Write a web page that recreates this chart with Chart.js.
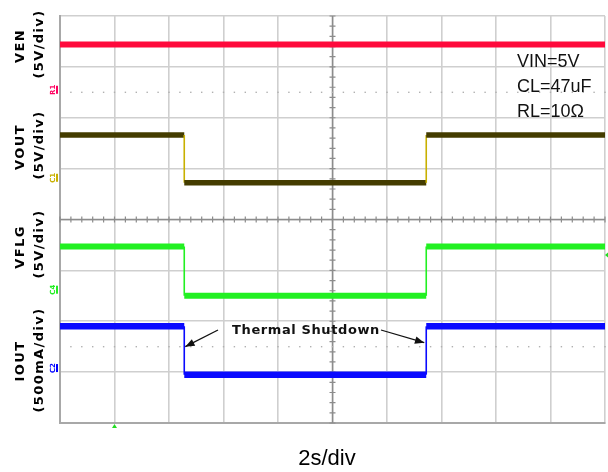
<!DOCTYPE html>
<html>
<head>
<meta charset="utf-8">
<script src="https://cdn.jsdelivr.net/npm/chart.js@4/dist/chart.umd.min.js"></script>
<style>
  html, body { margin: 0; padding: 0; background: #ffffff; }
  #wrap { width: 608px; height: 472px; position: relative; }
</style>
</head>
<body>
<div id="wrap"><canvas id="c" width="608" height="472"></canvas></div>
<script>
// ---- data (time in seconds, 2 s/div; levels in screen divisions 0..8) ----
const timeS   = [0, 4.56, 4.56, 13.44, 13.44, 20];
const venDiv  = [7.44, 7.44, 7.44, 7.44, 7.44, 7.44];
const voutDiv = [5.66, 5.66, 4.72, 4.72, 5.66, 5.66];
const vflgDiv = [3.47, 3.47, 2.50, 2.50, 3.47, 3.47];
const ioutDiv = [1.90, 1.90, 0.95, 0.95, 1.90, 1.90];

const channelNames = ['VEN', 'VOUT', 'VFLG', 'IOUT'];
const channelScales = ['(5V/div)', '(5V/div)', '(5V/div)', '(500mA/div)'];
const channelMarkers = ['R1', 'C1', 'C4', 'C2'];
const markerLevels = [6.55, 4.82, 2.62, 1.08];
const refDotLevels = [6.5, 1.5];
const conditions = ['VIN=5V', 'CL=47uF', 'RL=10\u03A9'];
const annotation = 'Thermal Shutdown';
const xTitle = '2s/div';

function pts(ys) { return timeS.map((t, i) => ({ x: t, y: ys[i] })); }
function isVertical(ctx) {
  return ctx.p0.parsed.x === ctx.p1.parsed.x && ctx.p0.parsed.y !== ctx.p1.parsed.y;
}

function trace(label, ys, color, vColor, w) {
  return {
    label, data: pts(ys), borderColor: color, borderWidth: w,
    pointRadius: 0, tension: 0, fill: false,
    segment: {
      borderWidth: ctx => isVertical(ctx) ? 1.6 : w,
      borderColor: ctx => isVertical(ctx) ? vColor : color
    }
  };
}

const scopePlugin = {
  id: 'scope',
  beforeDatasetsDraw(chart) {
    const { ctx, scales: { x, y } } = chart;
    ctx.save();
    // center cross with minor ticks
    const cx = x.getPixelForValue(10), cy = y.getPixelForValue(4);
    ctx.strokeStyle = '#8c8c8c';
    ctx.lineWidth = 1.5;
    ctx.beginPath();
    ctx.moveTo(x.left, cy); ctx.lineTo(x.right, cy);
    ctx.moveTo(cx, y.top); ctx.lineTo(cx, y.bottom);
    ctx.stroke();
    ctx.lineWidth = 1.2;
    ctx.beginPath();
    for (let v = 0; v <= 20.001; v += 0.4) {
      const px = x.getPixelForValue(v);
      ctx.moveTo(px, cy - 3); ctx.lineTo(px, cy + 3);
    }
    for (let v = 0; v <= 8.001; v += 0.2) {
      const py = y.getPixelForValue(v);
      ctx.moveTo(cx - 3, py); ctx.lineTo(cx + 3, py);
    }
    ctx.stroke();
    // dotted reference levels
    ctx.fillStyle = '#b0b0b0';
    refDotLevels.forEach(lv => {
      const py = y.getPixelForValue(lv);
      for (let v = 0.4; v < 20; v += 0.4) {
        const px = x.getPixelForValue(v);
        ctx.fillRect(px - 0.7, py - 0.7, 1.4, 1.4);
      }
    });
    ctx.restore();
  },
  afterDraw(chart) {
    const { ctx, scales: { x, y } } = chart;
    ctx.save();
    // left channel labels
    ctx.fillStyle = '#000';
    ctx.textAlign = 'center';
    ctx.textBaseline = 'middle';
    ctx.font = 'bold 13px "DejaVu Sans"';
    const nameY = [47, 148, 248, 362];
    const scaleY = [45, 146, 245, 361];
    for (let i = 0; i < 4; i++) {
      ctx.save();
      ctx.translate(21, nameY[i]);
      ctx.rotate(-Math.PI / 2);
      ctx.letterSpacing = '1.4px';
      ctx.fillText(channelNames[i], 1, 0);
      ctx.restore();
      ctx.save();
      ctx.translate(40, scaleY[i]);
      ctx.rotate(-Math.PI / 2);
      ctx.letterSpacing = '1.4px';
      ctx.fillText(channelScales[i], 1, 0);
      ctx.restore();
    }
    // channel ground markers
    const mColors = ['#ff0060', '#c8b000', '#22ee22', '#0000ff'];
    ctx.font = 'bold 7px "DejaVu Sans"';
    for (let i = 0; i < 4; i++) {
      const py = y.getPixelForValue(markerLevels[i]);
      ctx.save();
      ctx.fillStyle = mColors[i];
      ctx.translate(53, py);
      ctx.rotate(-Math.PI / 2);
      ctx.fillText(channelMarkers[i], 0, 0);
      ctx.restore();
      ctx.fillStyle = mColors[i];
      ctx.fillRect(56, py - 4, 2, 8);
    }
    // trigger markers
    ctx.fillStyle = '#22dd22';
    const tx = x.getPixelForValue(2);
    ctx.beginPath();
    ctx.moveTo(tx - 2.5, y.bottom + 5); ctx.lineTo(tx + 2.5, y.bottom + 5); ctx.lineTo(tx, y.bottom + 1);
    ctx.closePath(); ctx.fill();
    const ty = y.getPixelForValue(3.3);
    ctx.beginPath();
    ctx.moveTo(x.right + 3, ty - 2.5); ctx.lineTo(x.right + 3, ty + 2.5); ctx.lineTo(x.right, ty);
    ctx.closePath(); ctx.fill();

    // conditions text
    ctx.fillStyle = '#111';
    ctx.textAlign = 'left';
    ctx.font = '18px "Liberation Sans"';
    const cyPos = [62, 87.5, 112];
    conditions.forEach((s, i) => ctx.fillText(s, 517, cyPos[i]));

    // Thermal Shutdown annotation + arrows
    ctx.font = 'bold 13px "DejaVu Sans"';
    ctx.letterSpacing = '0.6px';
    ctx.textAlign = 'center';
    ctx.fillText(annotation, 306, 331);
    ctx.letterSpacing = '0px';
    function arrow(x1, y1, x2, y2) {
      ctx.strokeStyle = '#111';
      ctx.lineWidth = 1.3;
      ctx.beginPath(); ctx.moveTo(x1, y1); ctx.lineTo(x2, y2); ctx.stroke();
      const a = Math.atan2(y2 - y1, x2 - x1), L = 10, W = 0.38;
      ctx.beginPath();
      ctx.moveTo(x2, y2);
      ctx.lineTo(x2 - L * Math.cos(a - W), y2 - L * Math.sin(a - W));
      ctx.lineTo(x2 - L * Math.cos(a + W), y2 - L * Math.sin(a + W));
      ctx.closePath(); ctx.fill();
    }
    const xFall = x.getPixelForValue(timeS[1]);
    const xRise = x.getPixelForValue(timeS[3]);
    const yArrow = y.getPixelForValue(1.5);
    arrow(218, 330, xFall + 1, yArrow);
    arrow(381, 330, xRise - 2, yArrow - 4);

    // x title
    ctx.font = '22px "Liberation Sans"';
    ctx.textAlign = 'center';
    ctx.fillStyle = '#000';
    ctx.fillText(xTitle, 327, 459);
    ctx.restore();
  }
};

new Chart(document.getElementById('c'), {
  type: 'line',
  data: {
    datasets: [
      trace('VEN', venDiv, '#ff0a3c', '#ff0a3c', 6),
      trace('VOUT', voutDiv, '#443c00', '#c8b000', 5.5),
      trace('VFLG', vflgDiv, '#22f022', '#22f022', 6),
      trace('IOUT', ioutDiv, '#0a0aff', '#0a0aff', 6.5)
    ]
  },
  options: {
    responsive: false,
    animation: false,
    layout: { padding: { left: 60, right: 3, top: 16, bottom: 49 } },
    plugins: { legend: { display: false }, tooltip: { enabled: false } },
    scales: {
      x: {
        type: 'linear', min: 0, max: 20,
        ticks: { display: false, stepSize: 2 },
        grid: { color: '#cfcfcf', lineWidth: 1.6, drawTicks: false },
        border: { color: '#a8a8a8', width: 2 }
      },
      y: {
        type: 'linear', min: 0, max: 8,
        ticks: { display: false, stepSize: 1 },
        grid: { color: '#cfcfcf', lineWidth: 1.6, drawTicks: false },
        border: { color: '#a8a8a8', width: 2 }
      }
    }
  },
  plugins: [scopePlugin]
});
</script>
</body>
</html>
